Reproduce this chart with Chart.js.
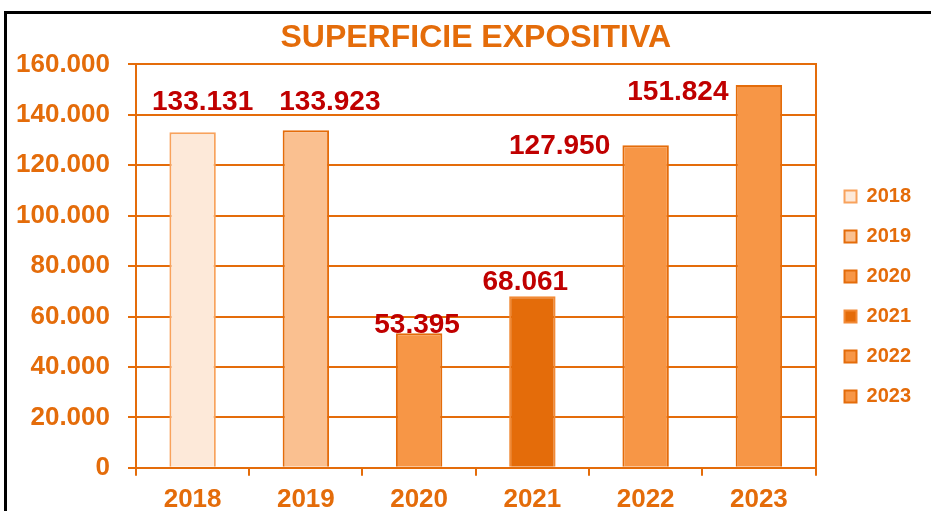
<!DOCTYPE html>
<html>
<head>
<meta charset="utf-8">
<script src="https://cdn.jsdelivr.net/npm/chart.js@4.4.0/dist/chart.umd.min.js"></script>
<style>
  html, body { margin: 0; padding: 0; background: #fff; }
  #wrap { position: relative; width: 931px; height: 511px; }
  #frame {
    position: absolute; left: 4px; top: 11px; right: 0; bottom: 0;
    border-top: 3px solid #000; border-left: 3px solid #000;
    pointer-events: none;
  }
</style>
</head>
<body>
<div id="wrap">
  <canvas id="chart" width="931" height="511"></canvas>
  <div id="frame"></div>
</div>
<script>
const TITLE = 'SUPERFICIE EXPOSITIVA';
const categories = ['2018', '2019', '2020', '2021', '2022', '2023'];
const values = [133131, 133923, 53395, 68061, 127950, 151824];
const yMax = 160000;
const yStep = 20000;

const ORANGE = '#E46C0A';
const LABEL_RED = '#C00000';
const FONT = "'Liberation Sans', Arial, sans-serif";

const fills = ['#FDE9D9', '#FAC090', '#F79646', '#E46C0A', '#F79646', '#F79646'];
const borders = ['#F8A25C', '#E46C0A', '#E46C0A', '#F28A36', '#E46C0A', '#E46C0A'];
// where each value label sits, relative to the top of its bar
const labelOffsets = [[10, -30], [24, -28], [-2, -8], [-7, -14], [-86, 1], [-81, 7]];

function formatThousands(v) {
    return String(v).replace(/\B(?=(\d{3})+(?!\d))/g, '.');
}

const valueLabels = {
    id: 'valueLabels',
    afterDatasetsDraw(chart) {
        const ctx = chart.ctx;
        const meta = chart.getDatasetMeta(0);
        ctx.save();
        ctx.font = 'bold 28px ' + FONT;
        ctx.fillStyle = LABEL_RED;
        ctx.textAlign = 'center';
        ctx.textBaseline = 'middle';
        meta.data.forEach((bar, i) => {
            const off = labelOffsets[i];
            ctx.fillText(formatThousands(values[i]), bar.x + off[0], bar.y + off[1]);
        });
        ctx.restore();
    }
};

new Chart(document.getElementById('chart'), {
    type: 'bar',
    data: {
        labels: categories,
        datasets: [{
            data: values,
            backgroundColor: fills,
            borderColor: borders,
            borderWidth: 2,
            categoryPercentage: 1,
            barPercentage: 0.41
        }]
    },
    options: {
        responsive: false,
        animation: false,
        layout: { padding: { left: -2, right: 10, top: 0, bottom: -12 } },
        plugins: {
            title: {
                display: true,
                fullSize: false,
                text: TITLE,
                color: ORANGE,
                font: { family: FONT, size: 32, weight: 'bold' },
                padding: { top: 19, bottom: 7 }
            },
            legend: {
                position: 'right',
                title: {
                    display: true,
                    text: ' ',
                    font: { family: FONT, size: 16 },
                    padding: { top: 51, bottom: 0 }
                },
                labels: {
                    boxWidth: 12,
                    boxHeight: 12,
                    padding: 20,
                    color: ORANGE,
                    font: { family: FONT, size: 20, weight: 'bold' },
                    generateLabels: () => categories.map((c, i) => ({
                        text: c,
                        fillStyle: fills[i],
                        strokeStyle: borders[i],
                        lineWidth: 2,
                        fontColor: ORANGE,
                        hidden: false,
                        index: i
                    }))
                }
            },
            tooltip: { enabled: false }
        },
        scales: {
            x: {
                grid: {
                    offset: true,
                    drawOnChartArea: false,
                    color: ORANGE,
                    lineWidth: 2,
                    tickLength: 8
                },
                border: { color: ORANGE, width: 2 },
                ticks: {
                    color: ORANGE,
                    padding: 8,
                    font: { family: FONT, size: 26, weight: 'bold' }
                }
            },
            y: {
                min: 0,
                max: yMax,
                grid: { color: ORANGE, lineWidth: 2, tickLength: 8 },
                border: { color: ORANGE, width: 2 },
                ticks: {
                    stepSize: yStep,
                    color: ORANGE,
                    padding: 18,
                    font: { family: FONT, size: 26, weight: 'bold' },
                    callback: v => formatThousands(v)
                }
            },
            y2: {
                position: 'right',
                grid: { display: false },
                ticks: { display: false },
                border: { color: ORANGE, width: 2 },
                afterFit: scale => { scale.width = 9; }
            }
        }
    },
    plugins: [valueLabels]
});
</script>
</body>
</html>
